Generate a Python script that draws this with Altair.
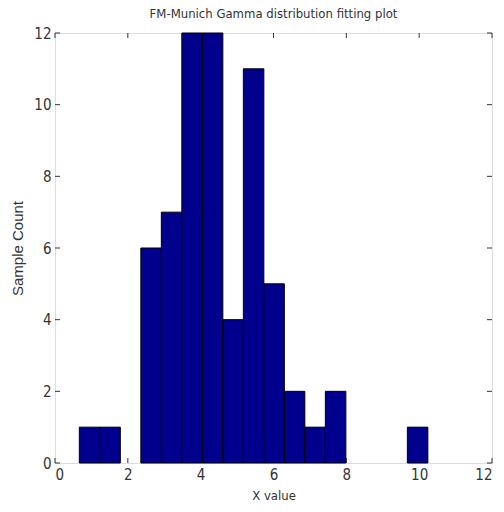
import altair as alt
import pandas as pd

# Histogram bins
bin_left = [0.668, 1.231, 2.357, 2.920, 3.483, 4.046, 4.609, 5.172, 5.735, 6.298, 6.861, 7.424, 9.676]
bin_right = [1.231, 1.794, 2.920, 3.483, 4.046, 4.609, 5.172, 5.735, 6.298, 6.861, 7.424, 7.987, 10.239]
counts = [1, 1, 6, 7, 12, 12, 4, 11, 5, 2, 1, 2, 1]

tick_values = [0, 2, 4, 6, 8, 10, 12]

title_text = "FM-Munich Gamma distribution fitting plot"
x_title = "X value"
y_title = "Sample Count"

FONT = "Liberation Sans Narrow, DejaVu Sans Condensed, Liberation Sans, Arial"
YFONT = "Liberation Sans, Arial"
W, H = 437, 430
TICK = 5

bars_df = pd.DataFrame({"x0": bin_left, "x1": bin_right, "count": counts})
ticks_df = pd.DataFrame({"t": tick_values})

xscale = alt.Scale(domain=[0, 12], nice=False, zero=False)
yscale = alt.Scale(domain=[0, 12], nice=False)

xaxis = alt.Axis(values=tick_values, ticks=False, domain=False, grid=False,
                 labelFont=FONT, labelFontSize=15, labelColor="#333333", labelPadding=4,
                 title=x_title, titleFont=FONT, titleFontSize=13, titleFontWeight="normal",
                 titleColor="#333333", titlePadding=7)
yaxis = alt.Axis(values=tick_values, ticks=False, domain=False, grid=False,
                 labelFont=FONT, labelFontSize=15, labelColor="#333333", labelPadding=4,
                 title=y_title, titleFont=YFONT, titleFontSize=15, titleFontWeight="normal",
                 titleColor="#333333", titlePadding=8)

bottom_ticks = alt.Chart(ticks_df).mark_rule(color="#333333", strokeWidth=1).encode(
    x=alt.X("t:Q", scale=xscale, axis=xaxis),
    y=alt.value(H), y2=alt.value(H - TICK))
top_ticks = alt.Chart(ticks_df).mark_rule(color="#333333", strokeWidth=1).encode(
    x=alt.X("t:Q", scale=xscale),
    y=alt.value(0), y2=alt.value(TICK))
left_ticks = alt.Chart(ticks_df).mark_rule(color="#333333", strokeWidth=1).encode(
    y=alt.Y("t:Q", scale=yscale, axis=yaxis),
    x=alt.value(0), x2=alt.value(TICK))
right_ticks = alt.Chart(ticks_df).mark_rule(color="#333333", strokeWidth=1).encode(
    y=alt.Y("t:Q", scale=yscale),
    x=alt.value(W), x2=alt.value(W - TICK))

bars = alt.Chart(bars_df).mark_rect(color="#00008c", stroke="#000000", strokeWidth=1).encode(
    x=alt.X("x0:Q", scale=xscale),
    x2="x1:Q",
    y=alt.Y("count:Q", scale=yscale),
    y2=alt.datum(0),
)

chart = alt.layer(bottom_ticks, top_ticks, left_ticks, right_ticks, bars).properties(
    width=W, height=H,
    title=alt.TitleParams(title_text, font=FONT, fontSize=13, fontWeight="normal",
                          color="#333333", offset=5, anchor="middle"),
    autosize=alt.AutoSizeParams(type="none"),
    padding={"left": 55, "top": 33, "right": 12, "bottom": 49},
).configure_view(stroke="#444444", strokeWidth=1).configure(background="white")

chart.save("out.html", embed_options={"renderer": "svg", "actions": False})
